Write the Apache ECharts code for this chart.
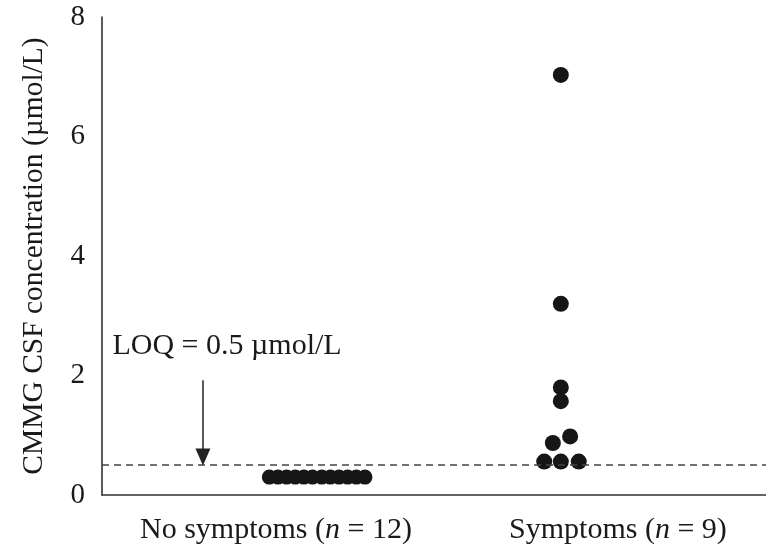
<!DOCTYPE html>
<html><head><meta charset="utf-8">
<script src="https://cdn.jsdelivr.net/npm/echarts@6/dist/echarts.min.js"></script>
<style>html,body{margin:0;padding:0;background:#fff}#c{width:766px;height:548px}</style>
</head><body><div id="c"></div>
<script>
// Groups and label positions on the (hidden) x scale
const groupNames = ['No symptoms', 'Symptoms'];
const groupN = [12, 9];
const groupLabelX = [2.62, 7.77];
// No symptoms: all below LOQ (plotted at 0.3), jittered horizontally
const noSymX = [2.52, 2.65, 2.78, 2.91, 3.04, 3.17, 3.31, 3.44, 3.57, 3.70, 3.83, 3.96];
const noSymY = [0.3, 0.3, 0.3, 0.3, 0.3, 0.3, 0.3, 0.3, 0.3, 0.3, 0.3, 0.3];
// Symptoms
const symX = [6.91, 6.91, 6.91, 6.91, 6.79, 7.05, 6.66, 6.91, 7.18];
const symY = [7.03, 3.2, 1.8, 1.57, 0.87, 0.98, 0.56, 0.56, 0.56];
// Annotation
const loqValue = 0.5;
const loqText = 'LOQ = 0.5 µmol/L';
const loqTextPos = [0.15, 2.5];
const arrowX = 1.52, arrowTopY = 1.92, arrowEndY = 0.635;
const yTicks = [0, 2, 4, 6, 8];

const FONT = '"Liberation Serif","DejaVu Serif",serif';
const chart = echarts.init(document.getElementById('c'));
chart.setOption({
  animation: false,
  backgroundColor: '#fff',
  grid: { left: 102, right: 0, top: 17, bottom: 53, containLabel: false },
  xAxis: {
    type: 'value', min: 0, max: 10,
    axisLine: { show: true, lineStyle: { color: '#333', width: 1.6 } },
    axisTick: { show: false }, splitLine: { show: false },
    axisLabel: {
      customValues: groupLabelX,
      margin: 20,
      formatter: function (v) {
        let i = groupLabelX.indexOf(v);
        if (i < 0) return '';
        return '{a|' + groupNames[i] + ' (}{i|n}{a| = ' + groupN[i] + ')}';
      },
      rich: {
        a: { fontFamily: FONT, fontSize: 30, color: '#1a1a1a' },
        i: { fontFamily: FONT, fontSize: 30, fontStyle: 'italic', color: '#1a1a1a' }
      }
    }
  },
  yAxis: {
    type: 'value', min: 0, max: 8, interval: 2,
    axisLine: { show: true, lineStyle: { color: '#333', width: 1.6 } },
    axisTick: { show: false }, splitLine: { show: false },
    axisLabel: { fontFamily: FONT, fontSize: 29, color: '#1a1a1a', margin: 17,
      formatter: v => yTicks.includes(v) ? String(v) : '' },
    name: 'CMMG CSF concentration (µmol/L)',
    nameLocation: 'middle', nameGap: 53,
    nameTextStyle: { fontFamily: FONT, fontSize: 29.5, color: '#1a1a1a' }
  },
  series: [
    {
      type: 'scatter', symbolSize: 15, silent: true,
      itemStyle: { color: '#161616', opacity: 1 },
      data: noSymX.map((x, i) => [x, noSymY[i]]),
      markPoint: {
        silent: true, symbol: 'rect', symbolSize: 1,
        itemStyle: { color: 'rgba(0,0,0,0)' },
        label: { show: true, position: 'right', distance: 0, fontFamily: FONT, fontSize: 30, color: '#1a1a1a',
          formatter: loqText },
        data: [{ coord: loqTextPos }]
      }
    },
    {
      type: 'scatter', symbolSize: 16, silent: true,
      itemStyle: { color: '#161616', opacity: 1 },
      data: symX.map((x, i) => [x, symY[i]]),
      markLine: {
        silent: true, symbol: 'none', label: { show: false },
        lineStyle: { color: '#444', type: [7, 5], width: 1.5 },
        data: [{ yAxis: loqValue }]
      }
    },
    {
      type: 'scatter', data: [], silent: true,
      markLine: {
        silent: true, symbol: ['none', 'triangle'], symbolSize: [15, 17],
        label: { show: false },
        lineStyle: { color: '#222', type: 'solid', width: 1.5 },
        data: [[{ coord: [arrowX, arrowTopY] }, { coord: [arrowX, arrowEndY] }]]
      }
    }
  ]
});
</script></body></html>
